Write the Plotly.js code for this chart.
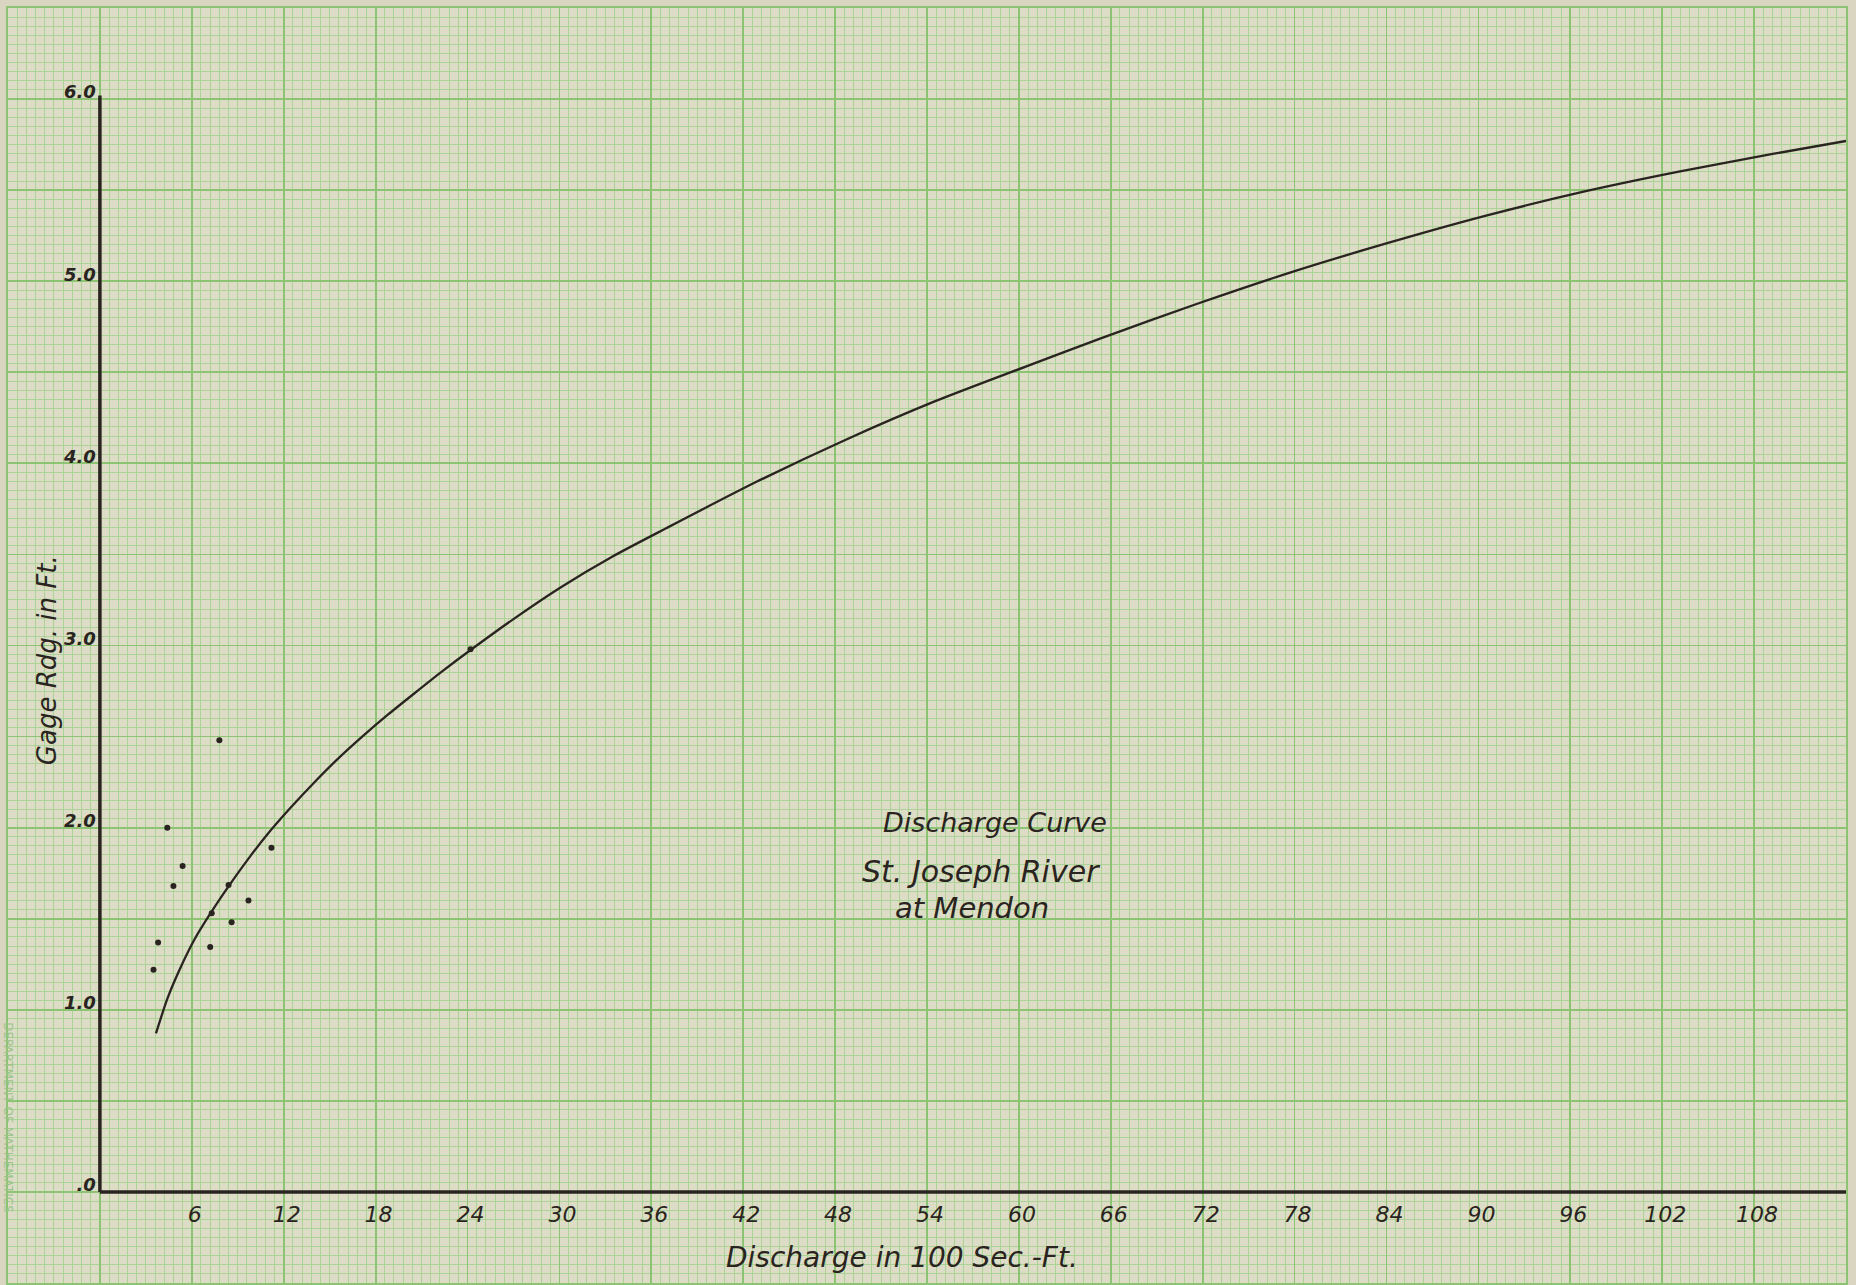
<!DOCTYPE html>
<html>
<head>
<meta charset="utf-8">
<script src="https://cdn.plot.ly/plotly-3.0.1.min.js"></script>
<style>
  html, body { margin: 0; padding: 0; background: #d9d5c0; }
  #chart { width: 1856px; height: 1285px; }
</style>
</head>
<body>
<div id="chart"></div>
<script>
// ---- Data ----
// Smooth discharge (rating) curve: discharge in 100 sec-ft vs gage reading in ft
const curveDischarge = [3.66, 4.4, 5.2, 6.2, 7.3, 8.5, 9.7, 10.9, 12.4, 13.9, 15.5, 17.2, 18.8, 20.5, 22.3, 24.2, 27.0, 30.1, 33.5, 37.0, 42.9, 48.7, 54.5, 60.4, 65.3, 71.6, 77.8, 84.1, 90.5, 96.8, 103.0, 109.3, 114.0];
const curveGage      = [0.87, 1.06, 1.22, 1.39, 1.54, 1.69, 1.83, 1.96, 2.105, 2.24, 2.375, 2.505, 2.62, 2.735, 2.855, 2.975, 3.145, 3.32, 3.49, 3.645, 3.90, 4.13, 4.34, 4.53, 4.685, 4.875, 5.05, 5.21, 5.36, 5.49, 5.60, 5.70, 5.77];

// Measured points
const obsDischarge = [3.5, 3.8, 4.4, 4.8, 5.4, 7.8, 7.3, 7.2, 8.4, 8.6, 9.7, 11.2, 24.2];
const obsGage       = [1.22, 1.37, 2.00, 1.68, 1.79, 2.48, 1.53, 1.345, 1.685, 1.48, 1.60, 1.89, 2.98];

// Tick labels
const xTickVals = [6, 12, 18, 24, 30, 36, 42, 48, 54, 60, 66, 72, 78, 84, 90, 96, 102, 108];
const xTickText = xTickVals.map(String);
const yTickVals = [0, 1, 2, 3, 4, 5, 6];
const yTickText = ['.0', '1.0', '2.0', '3.0', '4.0', '5.0', '6.0'];

// Text
const xTitle = 'Discharge in 100 Sec.-Ft.';
const yTitle = 'Gage Rdg. in Ft.';
const noteLines = ['Discharge Curve', 'St. Joseph River', 'at Mendon'];
const paperImprint = 'DEPARTMENT OF MATHEMATICS';

// ---- Graph paper extent (axis units) ----
const xRange = [-6, 114];
const yRange = [-0.5, 6.5];
const yAxisTop = 6.02;

const ink = '#2a2420';
const handFont = 'DejaVu Sans, Verdana, sans-serif';

const traces = [
  {
    x: curveDischarge, y: curveGage,
    type: 'scatter', mode: 'lines',
    line: { color: ink, width: 2.3, shape: 'spline', smoothing: 0.7 },
    xaxis: 'x', yaxis: 'y', hoverinfo: 'skip'
  },
  {
    x: obsDischarge, y: obsGage,
    type: 'scatter', mode: 'markers',
    marker: { color: ink, size: 6 },
    xaxis: 'x2', yaxis: 'y2', hoverinfo: 'skip'
  }
];

const xPos = (0 - yRange[0]) / (yRange[1] - yRange[0]);
const yPos = (0 - xRange[0]) / (xRange[1] - xRange[0]);

const majorGrid = '#8cc474';
const minorGrid = '#acd396';

const layout = {
  width: 1856, height: 1285,
  margin: { l: 8, r: 10, t: 8, b: 2, pad: 0 },
  paper_bgcolor: '#d9d5c0',
  plot_bgcolor: '#dddcc6',
  showlegend: false,
  xaxis: {
    range: xRange, tick0: 0, dtick: 6,
    showgrid: true, gridcolor: majorGrid, gridwidth: 1.8,
    minor: { tick0: 0, dtick: 0.6, showgrid: true, gridcolor: minorGrid, gridwidth: 1 },
    showticklabels: false, ticks: '', zeroline: false,
    showline: true, mirror: true, linecolor: majorGrid, linewidth: 2
  },
  yaxis: {
    range: yRange, tick0: 0, dtick: 0.5,
    showgrid: true, gridcolor: majorGrid, gridwidth: 1.8,
    minor: { tick0: 0, dtick: 0.05, showgrid: true, gridcolor: minorGrid, gridwidth: 1 },
    showticklabels: false, ticks: '', zeroline: false,
    showline: true, mirror: true, linecolor: majorGrid, linewidth: 2
  },
  xaxis2: {
    overlaying: 'x', anchor: 'free', position: xPos, side: 'bottom',
    range: xRange, showgrid: false, zeroline: false, showline: false, ticks: '',
    tickmode: 'array', tickvals: xTickVals, ticktext: xTickText,
    ticklabelstandoff: 7, ticklabelshift: 3,
    tickfont: { family: handFont, size: 22, color: ink, style: 'italic' }
  },
  yaxis2: {
    overlaying: 'y', anchor: 'free', position: yPos, side: 'left',
    range: yRange, showgrid: false, zeroline: false, showline: false, ticks: '',
    tickmode: 'array', tickvals: yTickVals, ticktext: yTickText,
    ticklabelstandoff: 4, ticklabelshift: -7,
    tickfont: { family: handFont, size: 18, color: ink, style: 'italic', weight: 'bold' }
  },
  shapes: [
    { type: 'line', xref: 'x', yref: 'y', x0: 0, x1: 0, y0: 0, y1: yAxisTop,
      line: { color: ink, width: 3.5 }, layer: 'above' },
    { type: 'line', xref: 'x', yref: 'y', x0: 0, x1: xRange[1], y0: 0, y1: 0,
      line: { color: ink, width: 3.5 }, layer: 'above' }
  ],
  annotations: [
    { text: xTitle, xref: 'x', yref: 'y', x: 52.4, y: -0.36, showarrow: false,
      xanchor: 'center', yanchor: 'middle',
      font: { family: handFont, size: 28, color: ink, style: 'italic' } },
    { text: yTitle, xref: 'x', yref: 'y', x: -3.45, y: 2.92, showarrow: false,
      textangle: -90, xanchor: 'center', yanchor: 'middle',
      font: { family: handFont, size: 26, color: ink, style: 'italic' } },
    { text: noteLines[0], xref: 'x', yref: 'y', x: 58.45, y: 2.03, showarrow: false,
      xanchor: 'center', yanchor: 'middle',
      font: { family: handFont, size: 27, color: ink, style: 'italic' } },
    { text: noteLines[1], xref: 'x', yref: 'y', x: 57.5, y: 1.76, showarrow: false,
      xanchor: 'center', yanchor: 'middle',
      font: { family: handFont, size: 30, color: ink, style: 'italic' } },
    { text: noteLines[2], xref: 'x', yref: 'y', x: 56.95, y: 1.56, showarrow: false,
      xanchor: 'center', yanchor: 'middle',
      font: { family: handFont, size: 29, color: ink, style: 'italic' } },
    { text: paperImprint, xref: 'paper', yref: 'paper', x: 0.0, y: 0.13, showarrow: false,
      textangle: 90, xanchor: 'center', yanchor: 'middle', borderpad: 0,
      font: { family: handFont, size: 12, color: '#9cc48a' } }
  ]
};

Plotly.newPlot('chart', traces, layout, { displayModeBar: false, staticPlot: true });
</script>
</body>
</html>
